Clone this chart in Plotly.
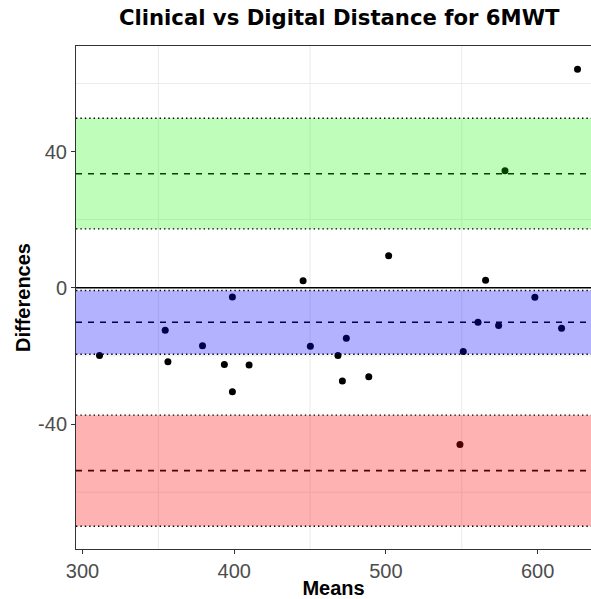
import plotly.graph_objects as go

# Bland-Altman data: mean of the two methods vs their difference (metres)
means = [311.2, 354.5, 356.3, 379.1, 398.8, 393.5, 409.8, 398.8,
         450.2, 468.4, 471.3, 473.9, 488.7, 548.8, 551.0, 560.7,
         574.3, 598.2, 615.8, 626.3, 578.5, 501.8, 445.4, 565.7]
diffs = [-19.9, -12.5, -21.7, -17.0, -2.7, -22.5, -22.7, -30.5,
         -17.2, -19.9, -27.4, -14.8, -26.1, -46.0, -18.7, -10.1,
         -11.1, -2.8, -11.9, 64.2, 34.4, 9.4, 2.1, 2.2]

# Bias and limits of agreement, each with its confidence interval
bias = -10.1
bias_ci = [-19.5, -0.8]
upper_loa = 33.5
upper_ci = [17.3, 49.8]
lower_loa = -53.7
lower_ci = [-70.0, -37.4]

x_ticks = [300, 400, 500, 600]
x_labels = ["300", "400", "500", "600"]
y_ticks = [-40, 0, 40]
y_labels = ["-40", "0", "40"]
x_grid = [350, 450, 550]
y_grid = [-60, -20, 20, 60]

fig = go.Figure()
fig.add_trace(go.Scatter(
    x=means, y=diffs, mode="markers",
    marker=dict(color="black", size=7),
    showlegend=False, hoverinfo="x+y",
))

shapes = []
# minor grid lines
for gx in x_grid:
    shapes.append(dict(type="line", xref="x", yref="paper", x0=gx, x1=gx, y0=0, y1=1,
                       line=dict(color="#EBEBEB", width=1), layer="below"))
for gy in y_grid:
    shapes.append(dict(type="line", xref="paper", yref="y", x0=0, x1=1, y0=gy, y1=gy,
                       line=dict(color="#EBEBEB", width=1), layer="below"))

# zero reference
shapes.append(dict(type="line", xref="paper", yref="y", x0=0, x1=1, y0=0, y1=0,
                   line=dict(color="black", width=1.5), layer="above"))

# dashed centre lines (below the translucent bands)
for val in [upper_loa, bias, lower_loa]:
    shapes.append(dict(type="line", xref="paper", yref="y", x0=0, x1=1, y0=val, y1=val,
                       line=dict(color="black", width=1.6, dash="6px,6px"), layer="above"))

# confidence bands
for ci, col in [(upper_ci, "rgba(20,250,0,0.27)"),
                (bias_ci, "rgba(0,0,255,0.3)"),
                (lower_ci, "rgba(255,0,0,0.3)")]:
    shapes.append(dict(type="rect", xref="paper", yref="y", x0=0, x1=1, y0=ci[0], y1=ci[1],
                       fillcolor=col, line=dict(width=0), layer="above"))
    for edge in ci:
        shapes.append(dict(type="line", xref="paper", yref="y", x0=0, x1=1, y0=edge, y1=edge,
                           line=dict(color="black", width=1.4, dash="1.4px,3px"), layer="above"))

fig.update_layout(
    width=591, height=599,
    margin=dict(l=76, r=0, t=46, b=50),
    paper_bgcolor="white", plot_bgcolor="white",
    font=dict(family="Liberation Sans, Arial, sans-serif"),
    title=dict(text="<b>Clinical vs Digital Distance for 6MWT</b>",
               x=0.574, xanchor="center", xref="container", y=0.97, yanchor="middle",
               font=dict(size=21.2, color="black", family="DejaVu Sans, Verdana, sans-serif")),
    shapes=shapes,
    xaxis=dict(
        range=[295.7, 635.2], tickvals=x_ticks, ticktext=x_labels,
        showgrid=False, zeroline=False,
        showline=True, linecolor="#333333", linewidth=1, mirror=True,
        ticks="outside", ticklen=4, tickcolor="#333333",
        tickfont=dict(size=20, color="#4D4D4D"),
        title=dict(text="<b>Means</b>", font=dict(size=20, color="black"), standoff=2),
    ),
    yaxis=dict(
        range=[-76.7, 71.0], tickvals=y_ticks, ticktext=y_labels,
        showgrid=False, zeroline=False,
        showline=True, linecolor="#333333", linewidth=1,
        ticks="outside", ticklen=4, tickcolor="#333333",
        tickfont=dict(size=20, color="#4D4D4D"),
        title=dict(text="<b>Differences</b>", font=dict(size=20, color="black"), standoff=2),
    ),
)

fig.write_html("out.html")
